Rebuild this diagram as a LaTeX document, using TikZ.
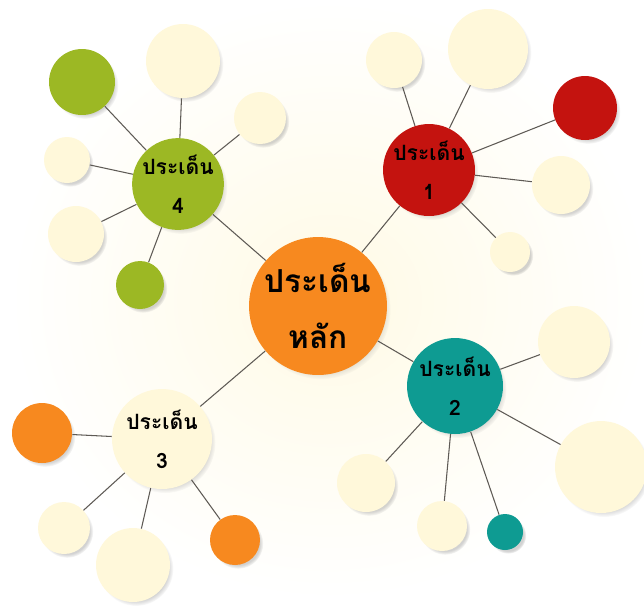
\documentclass[tikz,border=0pt]{standalone}
\usepackage{fontspec}
\newfontfamily\thaifont[Script=Thai]{Loma}
\usetikzlibrary{shadows}
\definecolor{cream}{HTML}{FFF8DA}
\definecolor{mainorange}{HTML}{F7891F}
\definecolor{topicred}{HTML}{C4130F}
\definecolor{topicteal}{HTML}{0E9B92}
\definecolor{topicgreen}{HTML}{9CB824}
\definecolor{linegray}{HTML}{5E5A55}
\tikzset{
  bubble/.style={circle, fill=#1, inner sep=0pt, align=center,
    circular drop shadow={shadow xshift=0.06cm, shadow yshift=-0.07cm, opacity=0.35, shadow scale=1.01}},
  rad/.style={minimum size=#1*0.04cm},
  maintext/.style={font=\thaifont\bfseries\fontsize{18}{32}\selectfont},
  topictext/.style={font=\thaifont\bfseries\fontsize{12}{22}\selectfont},
  link/.style={draw=linegray, line width=0.6pt}
}
\begin{document}
\begin{tikzpicture}[x=0.02cm, y=-0.02cm]
  \useasboundingbox (0,0) rectangle (644,610);
  \fill[white] (0,0) rectangle (644,610);
  \shade[inner color=cream!70, outer color=white] (330,300) ellipse (320 and 300);

  \node [bubble=mainorange, rad=69, maintext] (main) at (318,306) {ประเด็น\\หลัก};
  \node [bubble=topicred, rad=46, topictext] (topic1) at (429,170) {ประเด็น\\1};
  \node [bubble=topicteal, rad=48, topictext] (topic2) at (455,386) {ประเด็น\\2};
  \node [bubble=cream, rad=50, topictext] (topic3) at (162,439) {ประเด็น\\3};
  \node [bubble=topicgreen, rad=40, topictext] (topic4) at (178,184) {ประเด็น\\4};

  \node [bubble=cream, rad=28] (t1a) at (394,60) {};
  \node [bubble=cream, rad=40] (t1b) at (488,49) {};
  \node [bubble=topicred, rad=32] (t1c) at (585,108) {};
  \node [bubble=cream, rad=29] (t1d) at (561,185) {};
  \node [bubble=cream, rad=20] (t1e) at (510,252) {};

  \node [bubble=cream, rad=36] (t2a) at (574,342) {};
  \node [bubble=cream, rad=46] (t2b) at (601,467) {};
  \node [bubble=topicteal, rad=18] (t2c) at (505,532) {};
  \node [bubble=cream, rad=25] (t2d) at (442,526) {};
  \node [bubble=cream, rad=29] (t2e) at (366,483) {};

  \node [bubble=mainorange, rad=30] (t3a) at (42,433) {};
  \node [bubble=cream, rad=26] (t3b) at (64,528) {};
  \node [bubble=cream, rad=37] (t3c) at (133,565) {};
  \node [bubble=mainorange, rad=25] (t3d) at (235,540) {};

  \node [bubble=topicgreen, rad=33] (t4a) at (82,82) {};
  \node [bubble=cream, rad=37] (t4b) at (183,61) {};
  \node [bubble=cream, rad=26] (t4c) at (260,118) {};
  \node [bubble=cream, rad=23] (t4d) at (67,160) {};
  \node [bubble=cream, rad=28] (t4e) at (76,234) {};
  \node [bubble=topicgreen, rad=24] (t4f) at (140,285) {};

  \draw [link] (main) -- (topic1);
  \draw [link] (main) -- (topic2);
  \draw [link] (main) -- (topic3);
  \draw [link] (main) -- (topic4);
  \foreach \leaf in {t1a,t1b,t1c,t1d,t1e} \draw [link] (topic1) -- (\leaf);
  \foreach \leaf in {t2a,t2b,t2c,t2d,t2e} \draw [link] (topic2) -- (\leaf);
  \foreach \leaf in {t3a,t3b,t3c,t3d} \draw [link] (topic3) -- (\leaf);
  \foreach \leaf in {t4a,t4b,t4c,t4d,t4e,t4f} \draw [link] (topic4) -- (\leaf);
\end{tikzpicture}
\end{document}
